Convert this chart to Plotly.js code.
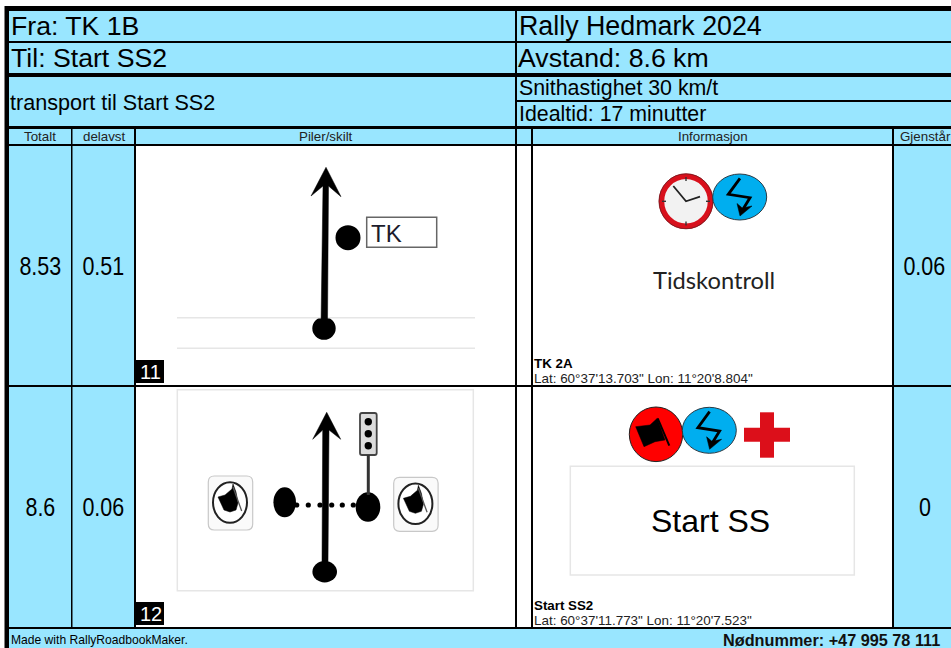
<!DOCTYPE html>
<html>
<head>
<meta charset="utf-8">
<script src="https://cdn.plot.ly/plotly-3.0.1.min.js"></script>
<style>html,body{margin:0;padding:0;background:#fff}#chart{width:951px;height:648px}</style>
</head>
<body>
<div id="chart"></div>
<script>
// ---- content ----
var headerLeft = ["Fra: TK 1B", "Til: Start SS2", "transport til Start SS2"];
var headerRight = ["Rally Hedmark 2024", "Avstand: 8.6 km", "Snithastighet 30 km/t", "Idealtid: 17 minutter"];
var columnTitles = ["Totalt", "delavst", "Piler/skilt", "Informasjon", "Gjenstår"];
var totalt = ["8.53", "8.6"];
var delavst = ["0.51", "0.06"];
var gjenstar = ["0.06", "0"];
var rowNumbers = ["11", "12"];
var placeNames = ["TK 2A", "Start SS2"];
var coordinates = ["Lat: 60°37'13.703\" Lon: 11°20'8.804\"", "Lat: 60°37'11.773\" Lon: 11°20'7.523\""];
var footerLeft = "Made with RallyRoadbookMaker.";
var footerRight = "Nødnummer: +47 995 78 111";

var BLUE = "#99E6FF", F = "Liberation Sans, Arial, sans-serif";
var shapes = [], traces = [], ann = [];

function rect(x0, y0, x1, y1, fill, line, lw) {
  shapes.push({type: "rect", xref: "x", yref: "y", x0: x0, y0: y0, x1: x1, y1: y1, fillcolor: fill,
    line: {width: lw || 0, color: line || fill}, layer: "below"});
}
function ell(cx, cy, rx, ry, fill, line, lw) {
  shapes.push({type: "circle", xref: "x", yref: "y", x0: cx - rx, y0: cy - ry, x1: cx + rx, y1: cy + ry, fillcolor: fill,
    line: {width: lw || 0, color: line || fill}, layer: "below"});
}
function round(x0, y0, x1, y1, r, fill, line, lw) {
  var d = "M" + (x0 + r) + "," + y0 + " L" + (x1 - r) + "," + y0 + " Q" + x1 + "," + y0 + " " + x1 + "," + (y0 + r) +
    " L" + x1 + "," + (y1 - r) + " Q" + x1 + "," + y1 + " " + (x1 - r) + "," + y1 + " L" + (x0 + r) + "," + y1 +
    " Q" + x0 + "," + y1 + " " + x0 + "," + (y1 - r) + " L" + x0 + "," + (y0 + r) + " Q" + x0 + "," + y0 + " " + (x0 + r) + "," + y0 + " Z";
  shapes.push({type: "path", xref: "x", yref: "y", path: d, fillcolor: fill, line: {width: lw, color: line}, layer: "below"});
}
function poly(xs, ys, color) {
  traces.push({x: xs.concat(xs[0]), y: ys.concat(ys[0]), mode: "lines", fill: "toself", fillcolor: color,
    line: {width: 0.5, color: color}, hoverinfo: "skip", showlegend: false});
}
function stroke(xs, ys, color, w) {
  traces.push({x: xs, y: ys, mode: "lines", line: {width: w, color: color}, hoverinfo: "skip", showlegend: false});
}
function label(text, x, y, size, anchor, opts) {
  opts = opts || {};
  ann.push({text: text, x: x, y: y, xref: "x", yref: "y", showarrow: false, xanchor: anchor, yanchor: "middle",
    borderpad: 0, borderwidth: 0, font: {family: opts.family || F, size: size, color: opts.color || "#000"}});
}

// ---- table background + grid ----
rect(4.5, 6, 951, 648, "#000");
rect(9, 629, 951, 648, BLUE);
// header bands
rect(9, 11, 515, 41, BLUE); rect(517, 11, 951, 41, BLUE);
rect(9, 43, 515, 73, BLUE); rect(517, 43, 951, 73, BLUE);
rect(9, 77, 515, 126, BLUE); rect(517, 77, 951, 100, BLUE); rect(517, 102, 951, 126, BLUE);
// column title band
rect(9, 129, 71, 144, BLUE); rect(72.5, 129, 134, 144, BLUE); rect(136, 129, 515, 144, BLUE);
rect(517, 129, 531, 144, BLUE); rect(533, 129, 892, 144, BLUE); rect(894, 129, 951, 144, BLUE);
// body rows
[[146, 385], [387, 627]].forEach(function (r) {
  rect(9, r[0], 71, r[1], BLUE); rect(72.5, r[0], 134, r[1], BLUE);
  rect(136, r[0], 515, r[1], "#fff"); rect(517, r[0], 531, r[1], "#fff");
  rect(533, r[0], 892, r[1], "#fff"); rect(894, r[0], 951, r[1], BLUE);
});

// ---- row number tags ----
rect(136, 360, 164, 383, "#000");
rect(136, 602, 164, 625, "#000");
label(rowNumbers[0], 150.5, 372, 20, "center", {color: "#fff"});
label(rowNumbers[1], 150.5, 614, 20, "center", {color: "#fff"});

// ---- roadbook tile 1 ----
stroke([177, 475], [317.7, 317.7], "#e6e6e6", 1.5);
stroke([177, 475], [348.3, 348.3], "#e6e6e6", 1.5);
poly([326, 341, 328.5, 327.5, 321, 323, 311], [167.3, 196.7, 186, 325, 325, 186, 196], "#000");
ell(324, 328.3, 11.7, 11.5, "#000");
ell(348, 237.7, 12.5, 12.5, "#000");
rect(366.7, 217.3, 436.7, 247.3, "#fff", "#666", 1.5);
label("TK", 371, 233.5, 24, "left", {color: "#1c1c2c"});

// ---- roadbook tile 2 ----
rect(177.3, 389.7, 473.3, 590.7, "#fff", "#e6e6e6", 1.5);
poly([326.7, 340.7, 329, 328, 322, 322.7, 312.7], [412.3, 439.3, 430, 562, 562, 430, 439.3], "#000");
ell(324.7, 571.7, 12.3, 10.7, "#000");
ell(284.7, 502.3, 11.3, 15, "#000");
ell(368, 507, 12.3, 14.7, "#000");
[296.7, 308.3, 320, 331.7, 342.3, 353.3].forEach(function (x) { ell(x, 505, 2.6, 2.6, "#000"); });
stroke([368.3, 368.3], [455, 495], "#333", 3);
round(360, 413, 376.7, 455, 2, "#dcdcdc", "#444", 1.8);
[421.7, 433.7, 445.7].forEach(function (y) { ell(368.3, y, 3.7, 3.7, "#000"); });
[[0, 0], [185.4, 1.3]].forEach(function (o) {
  var dx = o[0], dy = o[1];
  round(208.3 + dx, 476 + dy, 252.7 + dx, 530 + dy, 6, "#fafafa", "#c8c8c8", 1.2);
  ell(230 + dx, 502.5 + dy, 17, 20.3, "#fff", "#222", 2);
  poly([218 + dx, 225 + dx, 232 + dx, 233 + dx, 236 + dx, 238 + dx, 236 + dx, 230 + dx, 224 + dx, 221 + dx],
       [497 + dy, 495 + dy, 489 + dy, 484 + dy, 492 + dy, 503 + dy, 510 + dy, 512 + dy, 510 + dy, 503 + dy], "#000");
  stroke([233 + dx, 241.7 + dx], [487 + dy, 511 + dy], "#555", 1.3);
});

// ---- info icons, row 1 ----
ell(686, 201.3, 24.5, 25, "#f2f2f2", "#d8101c", 5.5);
ell(686, 201.3, 27, 27.5, "rgba(0,0,0,0)", "#6b1a1f", 0.8);
stroke([686, 686], [177, 181], "#333", 1.4);
stroke([686, 686], [221.5, 225.5], "#333", 1.4);
stroke([662, 666], [201.3, 201.3], "#333", 1.4);
stroke([706, 710], [201.3, 201.3], "#333", 1.4);
stroke([673.3, 686, 700], [186, 201.3, 196.7], "#222", 1.8);
function lightning(cx, cy, dx, dy) {
  ell(cx, cy, 27, 23, "#00AEEF", "#2b3a44", 1);
  stroke([740 + dx, 728.3 + dx, 750 + dx, 742.5 + dx], [178.3 + dy, 194.3 + dy, 197.7 + dy, 210 + dy], "#000", 2.8);
  poly([740 + dx, 737 + dx, 742.3 + dx, 752 + dx], [216 + dy, 203.5 + dy, 208 + dy, 206 + dy], "#000");
}
lightning(739.7, 197, 0, 0);
label("Tidskontroll", 714, 280, 23.7, "center", {family: "Lato, Open Sans, sans-serif", color: "#222"});

// ---- info icons, row 2 ----
ell(656, 434.3, 26.7, 27.3, "#ff0000", "#222", 1);
poly([635.7, 650, 657.3, 665, 655, 644], [426.7, 425, 418.3, 440, 441.7, 446.7], "#000");
stroke([657.7, 669.3], [418.3, 445.7], "#000", 2);
lightning(709.3, 430.3, -30.4, 233.3);
rect(744, 427.7, 790, 441.7, "#dc0f1a");
rect(760, 412.3, 774, 457.7, "#dc0f1a");
rect(570.3, 466.3, 854.3, 575, "#fff", "#e6e6e6", 1.5);
label("Start SS", 710, 521, 32, "center");

// ---- texts ----
label(headerLeft[0], 10.5, 26, 26.67, "left");
label(headerLeft[1], 10.5, 58, 26.67, "left");
label(headerLeft[2], 9.5, 102, 21.6, "left");
label(headerRight[0], 518.5, 26, 26.8, "left");
label(headerRight[1], 518, 58, 26.67, "left");
label(headerRight[2], 518.5, 88, 21.33, "left");
label(headerRight[3], 518.5, 114, 21.33, "left");
[40, 104, 326, 713, 925].forEach(function (x, i) { label(columnTitles[i], x, 136.5, 13.33, "center", {color: "#222"}); });
var condensed = [];
[266, 507].forEach(function (y, i) {
  label(totalt[i], 40.3, y, 25, "center");
  label(delavst[i], 103, y, 25, "center");
  label(gjenstar[i], 924.5, y, 25, "center");
  condensed.push(totalt[i], delavst[i], gjenstar[i]);
});
[[363, 378], [605, 620]].forEach(function (y, i) {
  label("<b>" + placeNames[i] + "</b>", 534, y[0], 13.33, "left");
  label(coordinates[i], 534, y[1], 13.45, "left", {color: "#222"});
});
label(footerLeft, 11, 640, 12.1, "left");
label("<b>" + footerRight + "</b>", 939.5, 639.5, 16.25, "right", {color: "#111"});

Plotly.newPlot("chart", traces, {
  width: 951, height: 648, margin: {l: 0, r: 0, t: 0, b: 0, pad: 0},
  paper_bgcolor: "#fff", plot_bgcolor: "rgba(0,0,0,0)", showlegend: false,
  xaxis: {range: [0, 951], visible: false, fixedrange: true},
  yaxis: {range: [648, 0], visible: false, fixedrange: true},
  shapes: shapes, annotations: ann
}, {staticPlot: true, displayModeBar: false}).then(function () {
  // the reference's cell numbers are set in a condensed Arial: squeeze those real text nodes around their centre
  document.querySelectorAll("#chart .annotation-text").forEach(function (t) {
    if (condensed.indexOf(t.textContent) >= 0) {
      var b = t.getBBox(), cx = b.x + b.width / 2, old = t.getAttribute("transform") || "";
      t.setAttribute("transform", old + " translate(" + cx + ",0) scale(0.86,1) translate(" + (-cx) + ",0)");
    }
  });
});
</script>
</body>
</html>
